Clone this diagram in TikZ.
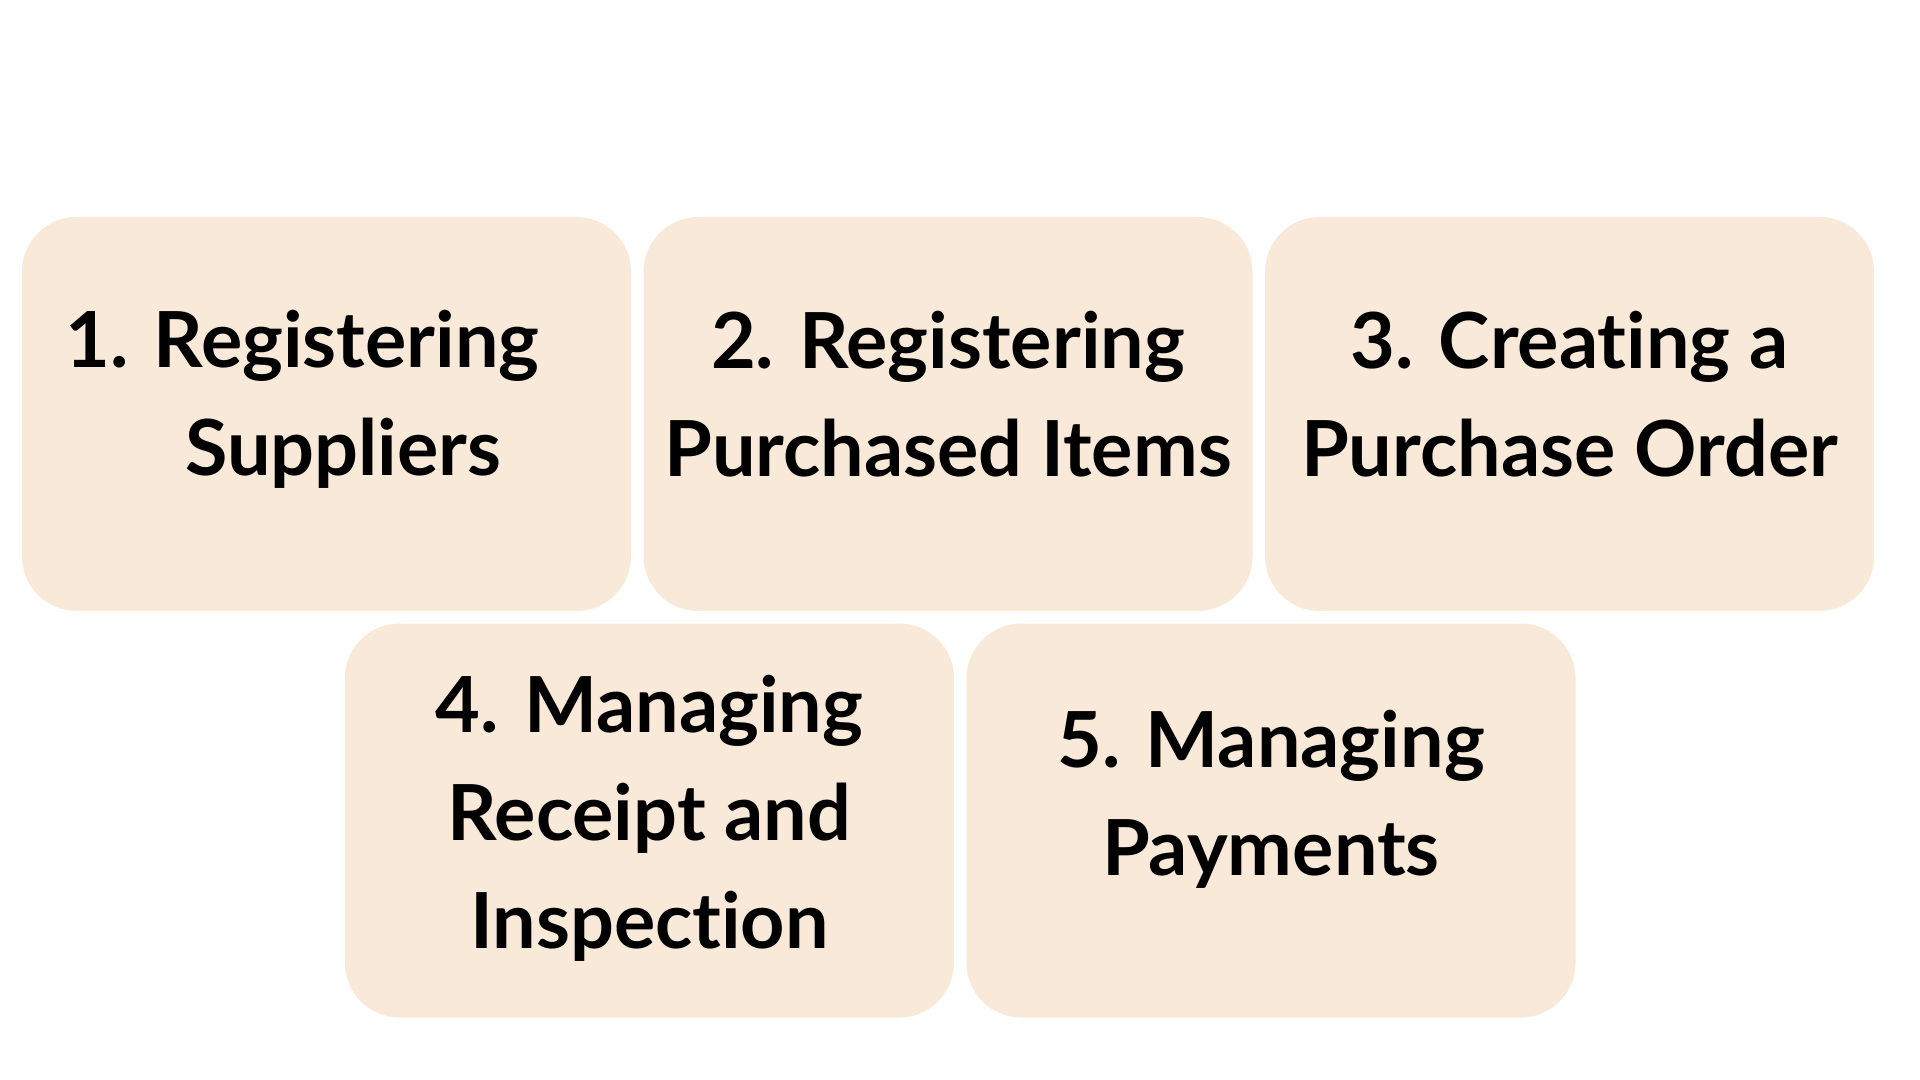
\documentclass[tikz,border=0pt]{standalone}
\usepackage{fontspec}
\setmainfont[Ligatures={NoCommon,NoRare,NoDiscretionary}]{Lato}
\usepackage{tikz}
\usetikzlibrary{positioning}

\definecolor{boxfill}{RGB}{248,233,217}

\begin{document}
\begin{tikzpicture}[x=1pt,y=1pt,
  stepbox/.style={rectangle,rounded corners=41pt,fill=boxfill,minimum width=456.75pt,minimum height=295.5pt,inner sep=0pt},
  steptext/.style={align=center,font=\fontsize{58}{81}\selectfont\bfseries,inner sep=0pt}]
\useasboundingbox[fill=white] (0,0) rectangle (1440,810);

\node[stepbox] (b1) at (244.9,499.5) {};
\node[stepbox,right=9pt of b1] (b2) {};
\node[stepbox,right=9pt of b2] (b3) {};
\node[stepbox] (b4) at (487.1,194.6) {};
\node[stepbox,right=9pt of b4] (b5) {};

\node[steptext] (t1) at ([yshift=11pt]b1.center) {1. Registering\hspace*{36pt}\\\hspace*{25pt}Suppliers};
\node[steptext] (t2) at ([yshift=15pt]b2.center) {2. Registering\\Purchased Items};
\node[steptext] (t3) at ([yshift=15pt]b3.center) {3. Creating a\\Purchase Order};
\node[steptext] (t4) at ([yshift=2pt]b4.center) {4. Managing\\Receipt and\\Inspection};
\node[steptext] (t5) at ([yshift=16pt]b5.center) {5. Managing\\Payments};

\end{tikzpicture}
\end{document}
